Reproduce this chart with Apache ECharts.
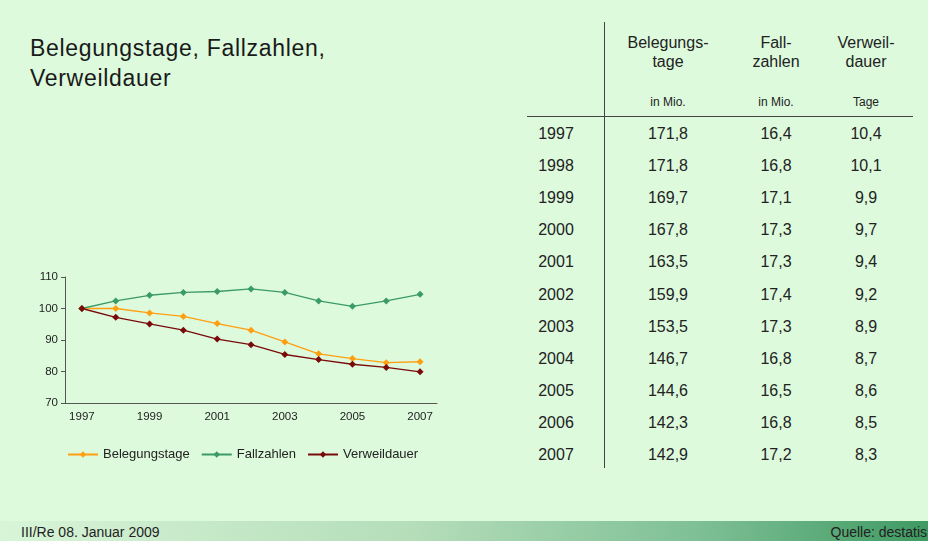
<!DOCTYPE html>
<html lang="de">
<head>
<meta charset="UTF-8">
<title>Belegungstage, Fallzahlen, Verweildauer</title>
<script src="https://cdn.jsdelivr.net/npm/echarts@6/dist/echarts.min.js"></script>
<style>
  html, body { margin: 0; padding: 0; }
  body { width: 928px; height: 541px; background: #ddfadd; position: relative; overflow: hidden;
         font-family: "Liberation Sans", Arial, sans-serif; color: #222; }
  #title { position: absolute; left: 30px; top: 33px; font-size: 23px; line-height: 30px; letter-spacing: 0.7px; color: #1a1a1a; }
  #lineChart { position: absolute; left: 0; top: 255px; width: 470px; height: 230px; }
  #vline { position: absolute; left: 604px; top: 22px; width: 1px; height: 446px; background: #444; }
  #hline { position: absolute; left: 527px; top: 116px; width: 386px; height: 1px; background: #444; }
  .hd { position: absolute; top: 33px; width: 110px; text-align: center; font-size: 16px; line-height: 19px; }
  .unit { position: absolute; top: 95px; width: 110px; text-align: center; font-size: 12px; }
  .cell { position: absolute; width: 110px; text-align: center; font-size: 16px; }
  #footer { position: absolute; left: 0; top: 521px; width: 928px; height: 20px;
            background: linear-gradient(to right, #d8f5d8 0%, #b4ddb8 45%, #7fc096 75%, #3f9a62 100%); }
  .foot { position: absolute; top: 524px; font-family: "Liberation Sans Narrow", "Liberation Sans", sans-serif; font-size: 14px; color: #222; }
</style>
</head>
<body>
<div id="title">Belegungstage, Fallzahlen,<br>Verweildauer</div>
<div id="lineChart"></div>
<div id="vline"></div>
<div id="hline"></div>
<div id="table"></div>
<div id="footer"></div>
<div class="foot" style="left:21px">III/Re 08. Januar 2009</div>
<div class="foot" style="right:1px">Quelle: destatis</div>

<script>
    // Jahre
    let years = ['1997', '1998', '1999', '2000', '2001', '2002', '2003', '2004', '2005', '2006', '2007'];

    // Index 1997 = 100
    let belegIndex = [100, 100, 98.6, 97.5, 95.2, 93.1, 89.4, 85.6, 84.1, 82.8, 83.1];
    let fallIndex = [100, 102.4, 104.2, 105.1, 105.4, 106.2, 105.1, 102.4, 100.7, 102.4, 104.5];
    let verweilIndex = [100, 97.2, 95.1, 93.1, 90.3, 88.5, 85.4, 83.8, 82.3, 81.3, 79.9];

    // Tabelle
    let colHeads = ['Belegungs-<br>tage', 'Fall-<br>zahlen', 'Verweil-<br>dauer'];
    let colUnits = ['in Mio.', 'in Mio.', 'Tage'];
    let belegTage = ['171,8', '171,8', '169,7', '167,8', '163,5', '159,9', '153,5', '146,7', '144,6', '142,3', '142,9'];
    let fallZahlen = ['16,4', '16,8', '17,1', '17,3', '17,3', '17,4', '17,3', '16,8', '16,5', '16,8', '17,2'];
    let verweilDauer = ['10,4', '10,1', '9,9', '9,7', '9,4', '9,2', '8,9', '8,7', '8,6', '8,5', '8,3'];

    // Tabelle aufbauen
    let colX = [613, 721, 811];
    let html = '';
    for (let i = 0; i < colHeads.length; i++) {
        html += '<div class="hd" style="left:' + colX[i] + 'px">' + colHeads[i] + '</div>';
        html += '<div class="unit" style="left:' + colX[i] + 'px">' + colUnits[i] + '</div>';
    }
    let cols = [belegTage, fallZahlen, verweilDauer];
    for (let r = 0; r < years.length; r++) {
        let top = 125 + r * 32.1;
        html += '<div class="cell" style="left:501px;top:' + top + 'px">' + years[r] + '</div>';
        for (let c = 0; c < cols.length; c++) {
            html += '<div class="cell" style="left:' + colX[c] + 'px;top:' + top + 'px">' + cols[c][r] + '</div>';
        }
    }
    document.getElementById('table').innerHTML = html;

    // Liniendiagramm
    let chartDom = document.getElementById('lineChart');
    let myChart = echarts.init(chartDom);

    let axisColor = '#555';
    let option = {
        animation: false,
        textStyle: {fontFamily: 'Liberation Sans, Arial, sans-serif'},
        grid: {left: 65, right: 33, top: 22, bottom: 82},
        legend: {
            bottom: 19,
            left: 62,
            itemWidth: 30,
            itemHeight: 8,
            itemGap: 11,
            textStyle: {fontSize: 13, color: '#222'},
            data: ['Belegungstage', 'Fallzahlen', 'Verweildauer']
        },
        xAxis: {
            type: 'category',
            data: years,
            boundaryGap: true,
            axisLine: {lineStyle: {color: axisColor}},
            axisTick: {interval: 0, length: 4, lineStyle: {color: axisColor}},
            axisLabel: {interval: 1, fontSize: 11.5, color: '#222', margin: 8}
        },
        yAxis: {
            type: 'value',
            min: 70,
            max: 110,
            interval: 10,
            splitLine: {show: false},
            axisLine: {show: true, lineStyle: {color: axisColor}},
            axisTick: {show: true, length: 4, lineStyle: {color: axisColor}},
            axisLabel: {fontSize: 11.5, color: '#222', margin: 7}
        },
        series: [
            {
                name: 'Belegungstage',
                type: 'line',
                data: belegIndex,
                symbol: 'diamond',
                symbolSize: 7,
                color: '#ff9f10',
                lineStyle: {width: 1.3}
            },
            {
                name: 'Fallzahlen',
                type: 'line',
                data: fallIndex,
                symbol: 'diamond',
                symbolSize: 7,
                color: '#3a9a68',
                lineStyle: {width: 1.3}
            },
            {
                name: 'Verweildauer',
                type: 'line',
                data: verweilIndex,
                symbol: 'diamond',
                symbolSize: 7,
                color: '#7a0a0a',
                lineStyle: {width: 1.3}
            }
        ]
    };
    myChart.setOption(option);
</script>
</body>
</html>
